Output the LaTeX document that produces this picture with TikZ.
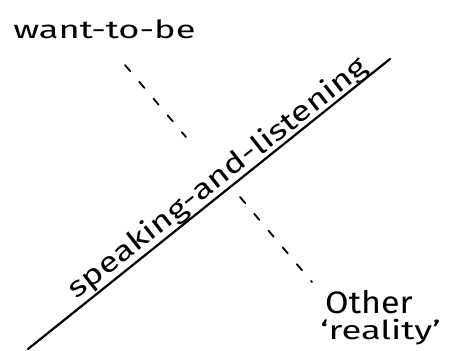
\documentclass[tikz,border=0pt]{standalone}
\usepackage{fontspec}
\setmainfont{Fira Sans}
\begin{document}
\begin{tikzpicture}[x=1pt,y=-1pt,
  lbl/.style={inner sep=0pt, font=\fontsize{25}{27}\selectfont},
  mainline/.style={line width=2.2pt, line cap=round},
  dashline/.style={line width=1.8pt, line cap=round, dash pattern=on 8pt off 14pt}]
\useasboundingbox (0,0) rectangle (451,351);
\coordinate (A) at (28,349);
\coordinate (B) at (390,59);
\draw[mainline] (A) -- (B);
\node[lbl, anchor=base west, xscale=1.45] (want) at (13,38) {want-to-be};
\node[lbl, font=\fontsize{28}{30}\selectfont, anchor=base, rotate=38, xscale=1.27] (speak) at (223,185) {speaking-and-listening};
\node[lbl, font=\fontsize{31}{33}\selectfont, anchor=base west, xscale=1.1] (other) at (325,313) {Other};
\node[lbl, font=\fontsize{26}{28}\selectfont, anchor=base west, xscale=1.4] (real) at (320,339) {‘reality’};
\coordinate (d1) at (125,65);
\coordinate (d2) at (186,137);
\coordinate (d3) at (240,197);
\coordinate (d4) at (312,282);
\draw[dashline] (d1) -- (d2);
\draw[dashline] (d3) -- (d4);
\end{tikzpicture}
\end{document}
